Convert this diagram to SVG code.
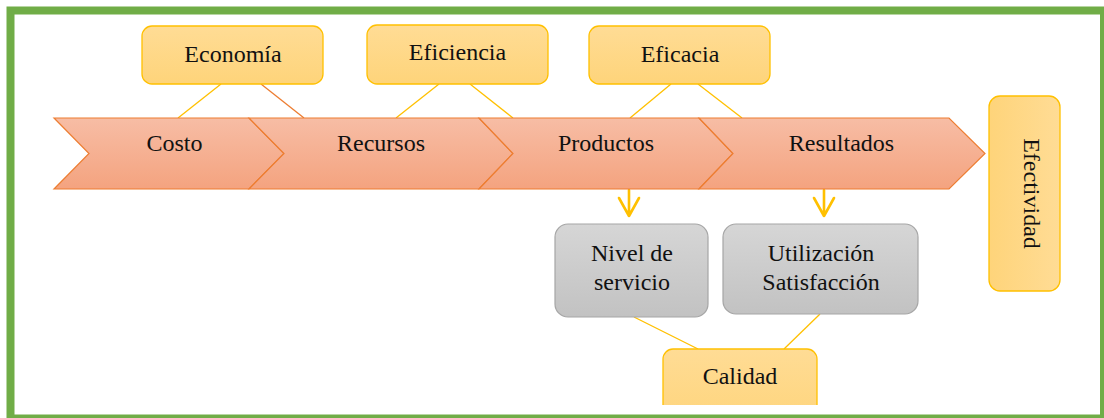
<svg xmlns="http://www.w3.org/2000/svg" width="1104" height="418" viewBox="0 0 1104 418">
<style>
text{font-family:"Liberation Serif","Times New Roman",serif;font-size:24px;fill:#111;text-anchor:middle}
.chev{fill:url(#gChev);stroke:#ed7d31;stroke-width:1.2}
.ybox{fill:url(#gYel);stroke:#ffc000;stroke-width:1.3}
.gbox{fill:url(#gGray);stroke:#a6a6a6;stroke-width:1.2}
.ln{stroke:#ffc000;stroke-width:1.3;fill:none}
.lo{stroke:#ed7d31;stroke-width:1.3;fill:none}
.arr{stroke:#ffc000;stroke-width:2.6;fill:none;stroke-linecap:round;stroke-linejoin:round}
</style>
<defs>
<linearGradient id="gChev" x1="0" y1="0" x2="0" y2="1">
<stop offset="0" stop-color="#f7bda5"/><stop offset="1" stop-color="#f4a37f"/>
</linearGradient>
<linearGradient id="gYel" x1="0" y1="0" x2="0" y2="1">
<stop offset="0" stop-color="#ffdc95"/><stop offset="1" stop-color="#fed47a"/>
</linearGradient>
<linearGradient id="gYelH" x1="0" y1="0" x2="1" y2="0">
<stop offset="0" stop-color="#fed47a"/><stop offset="1" stop-color="#ffdc95"/>
</linearGradient>
<linearGradient id="gGray" x1="0" y1="0" x2="0" y2="1">
<stop offset="0" stop-color="#d6d6d6"/><stop offset="1" stop-color="#c2c2c2"/>
</linearGradient>
<clipPath id="clipCal"><rect x="0" y="0" width="1104" height="405"/></clipPath>
</defs>
<rect x="0" y="0" width="1104" height="418" fill="#fff"/>
<rect x="10.5" y="10.5" width="1093.5" height="408" fill="#fff" stroke="#70ad47" stroke-width="8"/>

<g id="connectors">
<line class="ln" x1="221" y1="84" x2="178" y2="118"/>
<line class="lo" x1="261" y1="84" x2="304" y2="118"/>
<line class="ln" x1="439" y1="84" x2="396" y2="118"/>
<line class="ln" x1="470" y1="84" x2="513" y2="118"/>
<line class="ln" x1="671" y1="84" x2="630" y2="118"/>
<line class="ln" x1="698" y1="84" x2="742" y2="118"/>
<line class="ln" x1="634" y1="317" x2="698" y2="349"/>
<line class="ln" x1="820" y1="314" x2="784" y2="349"/>
<path class="arr" d="M629,190 V216 M619,198 L629,216 L639,198"/>
<path class="arr" d="M824,190 V216 M814,198 L824,216 L834,198"/>
</g>

<g id="costo">
<path class="chev" d="M54,118 L249,118 L284,153.5 L249,189 L54,189 L89,153.5 Z"/>
<text x="174.5" y="151">Costo</text>
</g>
<g id="recursos">
<path class="chev" d="M249,118 L479,118 L513,153.5 L479,189 L249,189 L284,153.5 Z"/>
<text x="381" y="151">Recursos</text>
</g>
<g id="productos">
<path class="chev" d="M479,118 L699,118 L733,153.5 L699,189 L479,189 L513,153.5 Z"/>
<text x="606" y="151">Productos</text>
</g>
<g id="resultados">
<path class="chev" d="M699,118 L949,118 L985,153.5 L949,189 L699,189 L733,153.5 Z"/>
<text x="841.5" y="151">Resultados</text>
</g>

<g id="economia">
<rect class="ybox" x="142" y="26" width="181" height="58" rx="10"/>
<text x="233" y="62">Economía</text>
</g>
<g id="eficiencia">
<rect class="ybox" x="367" y="25" width="181" height="59" rx="10"/>
<text x="457.5" y="60">Eficiencia</text>
</g>
<g id="eficacia">
<rect class="ybox" x="589" y="26" width="181" height="58" rx="10"/>
<text x="680" y="62">Eficacia</text>
</g>
<g id="efectividad">
<rect x="989" y="96" width="71" height="195" rx="11" fill="url(#gYelH)" stroke="#ffc000" stroke-width="1.3"/>
<text transform="translate(1024,193.5) rotate(90)" x="0" y="0">Efectividad</text>
</g>
<g id="nivel">
<rect class="gbox" x="555" y="224" width="153" height="93" rx="13"/>
<text x="632" y="261">Nivel de</text>
<text x="632" y="290">servicio</text>
</g>
<g id="utilizacion">
<rect class="gbox" x="723" y="224" width="195" height="90" rx="13"/>
<text x="821" y="261">Utilización</text>
<text x="821" y="290">Satisfacción</text>
</g>
<g id="calidad">
<rect class="ybox" x="663" y="349" width="154" height="80" rx="10" clip-path="url(#clipCal)"/>
<text x="740" y="384">Calidad</text>
</g>
</svg>
